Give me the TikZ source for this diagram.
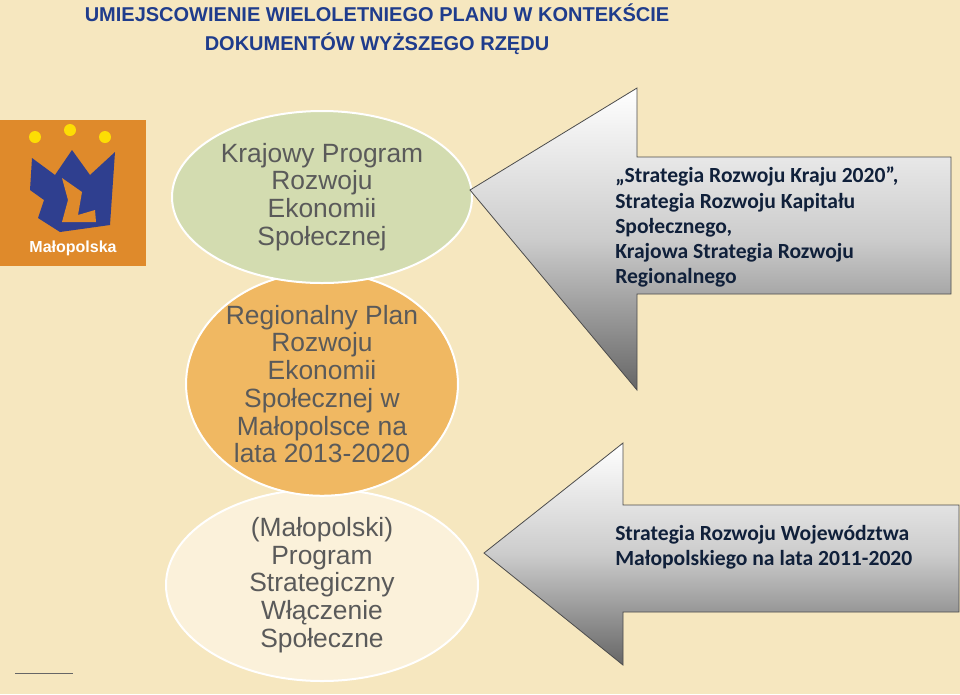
\documentclass[tikz,border=0pt]{standalone}
\usepackage{fontspec}
\setmainfont{Liberation Sans}
\newfontfamily\calibri{Carlito}
\definecolor{bgtan}{HTML}{F6E7BF}
\definecolor{titleblue}{HTML}{1F3C8C}
\definecolor{textgrey}{HTML}{5A5A5A}
\definecolor{ovalgreen}{HTML}{D3DCB0}
\definecolor{ovalorange}{HTML}{F0B862}
\definecolor{ovalcream}{HTML}{FBF1DA}
\definecolor{logoorange}{HTML}{DF8A2B}
\definecolor{logoblue}{HTML}{2F3F8F}
\definecolor{navytext}{HTML}{10203A}
\tikzset{
  oval/.style={ellipse, draw=white, line width=1.5pt, inner sep=0pt, text=textgrey,
    align=center, font=\fontsize{19.8}{20.8}\selectfont},
  arrowtext/.style={anchor=north west, align=left, text=navytext,
    font=\calibri\bfseries\fontsize{16.2}{18.8}\selectfont, inner sep=0pt},
  bigarrow/.style={draw=black!70, line width=0.6pt, shading=axis,
    top color=white, bottom color=black!60, middle color=black!20, shading angle=0}
}
\usetikzlibrary{shapes.geometric}
\begin{document}
\begin{tikzpicture}[x=0.75pt, y=-0.75pt]
  \fill[bgtan] (0,0) rectangle (960,694);
  \useasboundingbox (0,0) rectangle (960,694);
  % title
  \node[text=titleblue, font=\bfseries\fontsize{15}{21.5}\selectfont, align=center] (title) at (377,29)
    {UMIEJSCOWIENIE WIELOLETNIEGO PLANU W KONTEKŚCIE\\DOKUMENTÓW WYŻSZEGO RZĘDU};
  % logo
  \fill[logoorange] (0,120) rectangle (146,266);
  \fill[logoblue] (32,158) -- (55,175) -- (72,150) -- (90,175) -- (115,152) -- (110,225)
    -- (60,232) -- (38,218) -- (44,200) -- (30,190) -- cycle;
  \fill[logoorange] (62,178) -- (82,192) -- (78,215) -- (95,210) -- (96,222) -- (62,222) -- (68,200) -- cycle;
  \foreach \x/\y in {35/137, 70/130, 105/137} \fill[yellow!80!orange] (\x,\y) circle (6);
  \node[text=white, font=\bfseries\fontsize{12}{14}\selectfont] (logo) at (73,248) {Małopolska};
  % ovals
  \node[oval, fill=ovalcream, minimum width=234pt, minimum height=144pt] (strat) at (322,585)
    {(Małopolski)\\Program\\Strategiczny\\Włączenie\\Społeczne};
  \node[oval, fill=ovalorange, minimum width=201pt, minimum height=166pt] (plan) at (322,384)
    {Regionalny Plan\\Rozwoju\\Ekonomii\\Społecznej w\\Małopolsce na\\lata 2013-2020};
  \node[oval, fill=ovalgreen, minimum width=225pt, minimum height=129pt] (krajowy) at (322,197)
    {Krajowy Program\\Rozwoju\\Ekonomii\\Społecznej};
  % arrows
  \draw[bigarrow] (470,190) -- (637,88) -- (637,157) -- (951,157) -- (951,294)
    -- (637,294) -- (637,390) -- cycle;
  \draw[bigarrow] (484,553) -- (623,443) -- (623,505) -- (959,505) -- (959,612)
    -- (623,612) -- (623,665) -- cycle;
  \node[arrowtext] (kraj) at (615,167)
    {„Strategia Rozwoju Kraju 2020”,\\Strategia Rozwoju Kapitału\\Społecznego,\\Krajowa Strategia Rozwoju\\Regionalnego};
  \node[arrowtext] (woj) at (615,525)
    {Strategia Rozwoju Województwa\\Małopolskiego na lata 2011-2020};
  \draw[black!60] (15,673) -- (73,673);
\end{tikzpicture}
\end{document}
